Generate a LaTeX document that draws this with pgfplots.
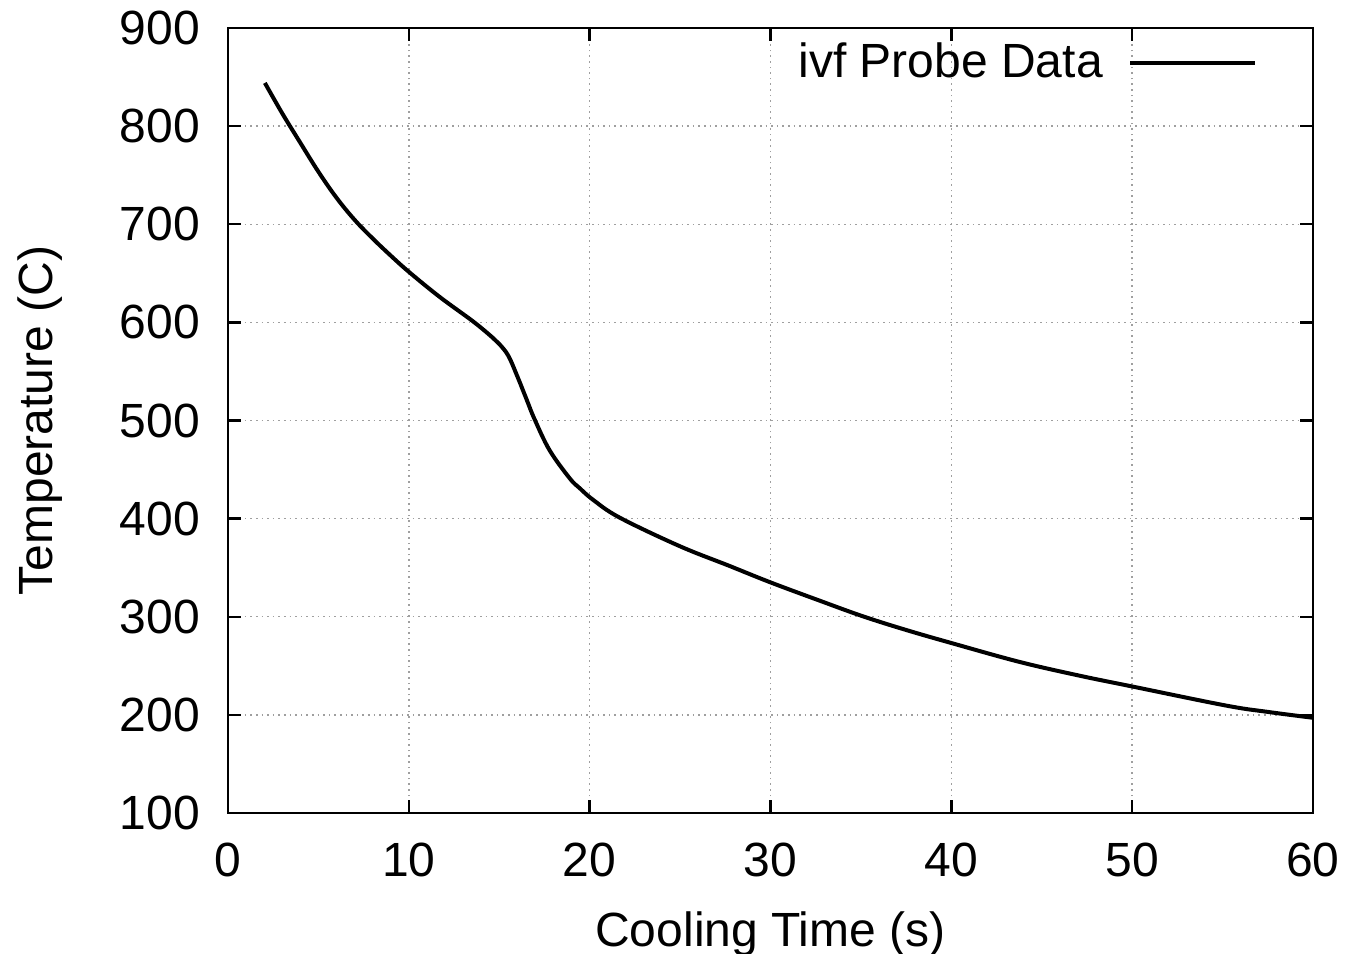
\documentclass[border=0pt]{standalone}
\usepackage{fontspec}
\setmainfont{Liberation Sans}
\usepackage{pgfplots}
\pgfplotsset{compat=1.18}
\begin{document}
\begin{tikzpicture}[font=\fontsize{12}{14.4}\selectfont]
\begin{axis}[
  scale only axis,
  width=271.25pt, height=196.25pt,
  xmin=0, xmax=60, ymin=100, ymax=900,
  xtick={0,10,...,60}, ytick={100,200,...,900},
  /pgf/number format/assume math mode=true,
  tick align=inside,
  major tick length=3.3pt,
  minor tick num=0,
  grid=major,
  grid style={densely dotted, gray!75, line width=0.35pt},
  axis line style={line width=0.6pt},
  every tick/.style={black, line width=0.6pt},
  xticklabel style={anchor=base, inner sep=0pt, yshift=-16pt},
  yticklabel style={anchor=east, inner sep=0pt, xshift=-6.8pt},
  xlabel={Cooling Time (s)},
  ylabel={Temperature (C)},
  xlabel style={at={(axis description cs:0.5,-0.1707)}, anchor=base, inner sep=0pt},
  ylabel style={at={(axis description cs:-0.1613,0.5)}, anchor=base, inner sep=0pt},
  legend style={draw=none, fill=none, inner sep=0pt, at={(axis description cs:0.9493,0.9558)}, anchor=east, legend cell align=right},
  legend plot pos=right,
  legend image code/.code={\path (0pt,0pt); \draw[#1] (4.35pt,0pt) -- (35.6pt,0pt);},
]
\addplot[black, line width=1pt, smooth, tension=0.6] coordinates {
(2.04,844) (3.0,813) (4.0,783) (5.0,753.5) (6.0,727) (7.0,704.5) (8.0,685.5)
(9.0,668) (10.0,651.5) (11.7,626) (13.55,601) (14.6,585) (15.0,578)
(15.5,566) (16.0,545) (16.5,522) (16.96,501)
(17.79,469.5) (18.9,441) (19.45,431)
(20.2,419) (21.66,401) (24.97,372) (27.7,352) (30,335) (32.7,316.5)
(35.1,300.5) (37.5,286.5) (40.04,273) (43.76,254) (47.07,240) (49.98,229)
(55.18,209.5) (57.5,203) (60,197)
};
\addlegendentry{ivf Probe Data}
\coordinate (ll) at (rel axis cs:0,0);
\coordinate (ur) at (rel axis cs:1,1);
\end{axis}
\pgfresetboundingbox
\useasboundingbox ([shift={(-57pt,-35.25pt)}]ll) rectangle ([shift={(8.5pt,7pt)}]ur);
\end{tikzpicture}
\end{document}
